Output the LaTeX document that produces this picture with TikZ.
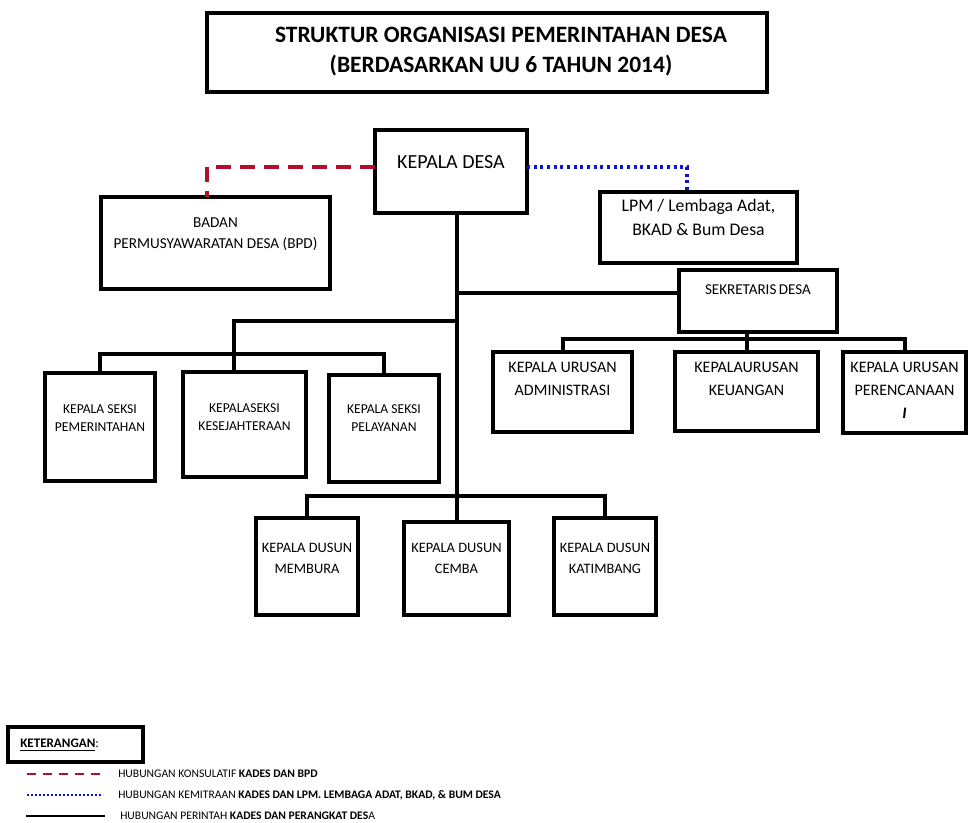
\documentclass[tikz,border=0pt]{standalone}
\usepackage{fontspec}
\setmainfont{Carlito}
\usetikzlibrary{fit}
\definecolor{konred}{HTML}{B0102E}
\definecolor{mitblue}{HTML}{0A14D2}
\tikzset{
  boxst/.style={draw=black, line width=2.4pt, inner sep=0pt, fill=none},
  txt/.style={inner sep=0pt, align=center, font=\fontsize{10.2}{13.5}\selectfont},
  cmd/.style={draw=black, line width=3pt},
  konsul/.style={draw=konred, line width=3pt, dash pattern=on 11pt off 7pt},
  mitra/.style={draw=mitblue, line width=2.4pt, dash pattern=on 2.2pt off 2.8pt},
  legtxt/.style={inner sep=0pt, anchor=west, font=\fontsize{8.7}{10}\selectfont}
}
\begin{document}
\begin{tikzpicture}[x=0.75pt, y=-0.75pt]
\useasboundingbox (0,0) rectangle (968,823);

% title
\node[boxst, fit={(207,13) (767,92)}] (title) {};
\node[txt, font=\bfseries\fontsize{17.6}{22.5}\selectfont] (titletxt) at (501,52) {STRUKTUR ORGANISASI PEMERINTAHAN DESA\\(BERDASARKAN UU 6 TAHUN 2014)};

% boxes
\node[boxst, fit={(375,130) (527,213)}] (kd) {};
\node[txt, font=\fontsize{15}{17}\selectfont] (kdt) at (451,162) {KEPALA DESA};

\node[boxst, fit={(101,197) (330,289)}] (bpd) {};
\node[txt, font=\fontsize{11.4}{15.75}\selectfont] (bpdt) at (215.5,234) {BADAN\\PERMUSYAWARATAN DESA (BPD)};

\node[boxst, fit={(600,192) (797,263)}] (lpm) {};
\node[txt, font=\fontsize{13.3}{18}\selectfont] (lpmt) at (698.5,217) {LPM / Lembaga Adat,\\BKAD \& Bum Desa};

\node[boxst, fit={(679,270) (837,332)}] (sek) {};
\node[txt, font=\fontsize{11.3}{13}\selectfont] (sekt) at (758,290) {SEKRETARIS\,DESA};

\node[boxst, fit={(493,352) (632,432)}] (urs1) {};
\node[txt, font=\fontsize{12}{17.25}\selectfont] (urs1t) at (562.5,379) {KEPALA URUSAN\\ADMINISTRASI};
\node[boxst, fit={(675,352) (818,431)}] (urs2) {};
\node[txt, font=\fontsize{12}{17.25}\selectfont] (urs2t) at (746.5,379) {KEPALAURUSAN\\KEUANGAN};
\node[boxst, fit={(843,352) (966,433)}] (urs3) {};
\node[txt, font=\fontsize{12}{17.25}\selectfont] (urs3t) at (904.5,390) {KEPALA URUSAN\\PERENCANAAN\\\textbf{\textit{I}}};

\node[boxst, fit={(45,373) (155,481)}] (sk1) {};
\node[txt] (sk1t) at (100,418.5) {KEPALA SEKSI\\PEMERINTAHAN};
\node[boxst, fit={(183,372) (306,477)}] (sk2) {};
\node[txt] (sk2t) at (244.5,417) {KEPALASEKSI\\KESEJAHTERAAN};
\node[boxst, fit={(329,375) (439,482)}] (sk3) {};
\node[txt] (sk3t) at (384,418.5) {KEPALA SEKSI\\PELAYANAN};

\node[boxst, fit={(256,518) (358,615)}] (ds1) {};
\node[txt, font=\fontsize{10.8}{15.75}\selectfont] (ds1t) at (307,558.5) {KEPALA DUSUN\\MEMBURA};
\node[boxst, fit={(404,522) (509,615)}] (ds2) {};
\node[txt, font=\fontsize{10.8}{15.75}\selectfont] (ds2t) at (456.5,558.5) {KEPALA DUSUN\\CEMBA};
\node[boxst, fit={(554,518) (656,615)}] (ds3) {};
\node[txt, font=\fontsize{10.8}{15.75}\selectfont] (ds3t) at (605,558.5) {KEPALA DUSUN\\KATIMBANG};

% junction coordinates
\coordinate (t0) at (457,213);
\coordinate (jS) at (457,293);
\coordinate (jK) at (457,321);
\coordinate (jK2) at (234,321);
\coordinate (sekb) at (747,332);
\coordinate (sekj) at (747,341);
\coordinate (rk) at (375,167);
\coordinate (rb) at (207,197);
\coordinate (bk) at (527,167);
\coordinate (bl) at (687,192);

% command lines
\draw[cmd] (t0) -- (t0 |- ds2.north);
\draw[cmd] (jS) -- (jS -| sek.west);
\draw[cmd] (jK) -- (jK2) -- (jK2 |- sk2.north);
\draw[cmd] (sk1.north) -- ++(0,-17) -| (sk3.north);
\draw[cmd] (ds1.north) -- ++(0,-20) -| (ds3.north);
\draw[cmd] (sekb) -- (sekj) -- (sekj |- urs2.north);
\draw[cmd] (urs1.north) -- ++(0,-11) -| (urs3.north);

% konsultatif & kemitraan
\draw[konsul] (rk) -| (rb);
\draw[mitra] (bk) -| (bl);

% legend
\node[boxst, fit={(8,727) (143,762)}] (ket) {};
\node[legtxt, font=\fontsize{9.8}{12}\selectfont] (kett) at (20,745) {\textbf{\underline{KETERANGAN}}:};
\coordinate (l1a) at (27,774); \coordinate (l1b) at (105,774);
\coordinate (l2a) at (27,795); \coordinate (l2b) at (103,795);
\coordinate (l3a) at (26,816); \coordinate (l3b) at (105,816);
\draw[konsul, line width=2.2pt, dash pattern=on 7pt off 5pt] (l1a) -- (l1b);
\draw[mitra, line width=1.6pt, dash pattern=on 1.4pt off 1.6pt] (l2a) -- (l2b);
\draw[cmd, line width=2.2pt] (l3a) -- (l3b);
\node[legtxt] (lt1) at (118,774) {HUBUNGAN KONSULATIF \textbf{KADES DAN BPD}};
\node[legtxt] (lt2) at (118,795) {HUBUNGAN KEMITRAAN \textbf{KADES DAN LPM. LEMBAGA ADAT, BKAD, \& BUM DESA}};
\node[legtxt] (lt3) at (120,816) {HUBUNGAN PERINTAH \textbf{KADES DAN PERANGKAT DES}A};
\end{tikzpicture}
\end{document}
